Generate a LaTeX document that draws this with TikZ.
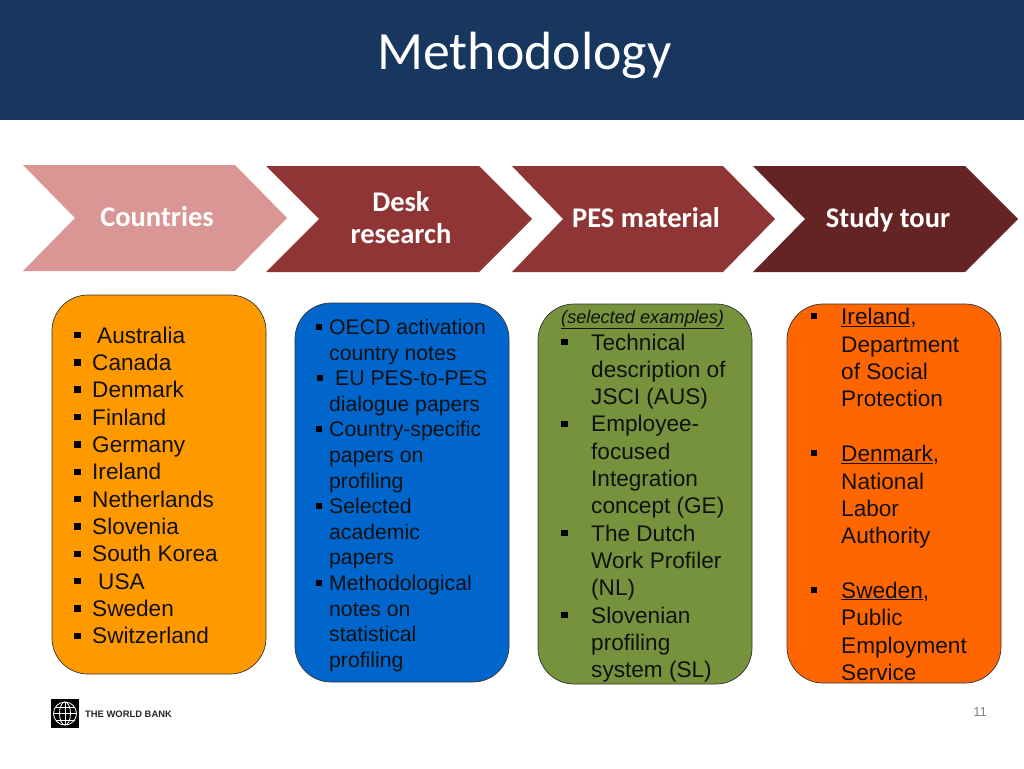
\documentclass[tikz,border=0pt]{standalone}
\usepackage{fontspec}
\setmainfont{Liberation Sans}
\newfontfamily\titlefont{Carlito}
\definecolor{hdr}{HTML}{17375E}
\definecolor{chevA}{HTML}{D99694}
\definecolor{chevB}{HTML}{8F3535}
\definecolor{chevC}{HTML}{632423}
\definecolor{boxY}{HTML}{FF9900}
\definecolor{boxB}{HTML}{0066CC}
\definecolor{boxG}{HTML}{76923C}
\definecolor{boxO}{HTML}{FF6600}
\definecolor{inktxt}{HTML}{111111}
\newcommand{\px}[1]{\fontsize{#1pt}{#1pt}\selectfont}
\tikzset{
  x=1pt,y=-1pt,
  chevlabel/.style={text=white,font=\titlefont\bfseries\px{28.5},anchor=base,inner sep=0pt},
  panel/.style={draw=black!80,line width=0.7pt,rounded corners=36pt},
  rowA/.style={anchor=base west,inner sep=0pt,text=inktxt,font=\px{22.6}},
  rowB/.style={anchor=base west,inner sep=0pt,text=inktxt,font=\px{21.2}},
  bul/.style={fill=black,inner sep=0pt,minimum size=6.5pt,rectangle}
}
\begin{document}
\begin{tikzpicture}
\useasboundingbox (0,0) rectangle (1024,768);
\fill[hdr] (0,0) rectangle (1024,120);
\node[text=white,font=\titlefont\px{53.8},anchor=base,inner sep=0pt] (title) at (524.5,69) {Methodology};

% chevrons
\fill[chevA] (23,165) -- (235,165) -- (287,218) -- (235,271) -- (23,271) -- (75,218) -- cycle;
\fill[chevB] (266,166) -- (479,166) -- (532,219) -- (479,272) -- (266,272) -- (319,219) -- cycle;
\fill[chevB] (512,166) -- (723,166) -- (775,219) -- (723,272) -- (512,272) -- (563,219) -- cycle;
\fill[chevC] (753,166) -- (965,166) -- (1018,219) -- (965,272) -- (753,272) -- (805,219) -- cycle;
\node[chevlabel] (l1) at (157,226.5) {Countries};
\node[chevlabel] (l2a) at (401,211.5) {Desk};
\node[chevlabel] (l2b) at (401,243) {research};
\node[chevlabel] (l3) at (646,227.5) {PES material};
\node[chevlabel] (l4) at (888,227.5) {Study tour};

% panels
\draw[panel,fill=boxY] (52,295) rectangle (266,674);
\draw[panel,fill=boxB] (295,303) rectangle (509,682);
\draw[panel,fill=boxG] (538,304) rectangle (752,684);
\draw[panel,fill=boxO] (787,304) rectangle (1001,683);

% countries
\foreach \i/\tx/\lab in {0/97/Australia,1/92/Canada,2/92/Denmark,3/92/Finland,4/92/Germany,5/92/Ireland,6/92/Netherlands,7/92/Slovenia,8/92/South Korea,9/98/USA,10/92/Sweden,11/92/Switzerland}{
  \node[bul] (cb\i) at (77.5,{335+27.36*\i}) {};
  \node[rowA] (c\i) at (\tx,{343+27.36*\i}) {\lab};
}

% desk research
\foreach \i/\tx/\lab in {0/329/OECD activation,1/329/country notes,2/335/EU PES-to-PES,3/329/dialogue papers,4/329/Country-specific,5/329/papers on,6/329/profiling,7/329/Selected,8/329/academic,9/329/papers,10/329/Methodological,11/329/notes on,12/329/statistical,13/329/profiling}{
  \node[rowB] (d\i) at (\tx,{334.5+25.6*\i}) {\lab};
}
\foreach \i/\bx/\by in {0/319/327,2/320/378,4/319/429,7/319/506,10/319/583}{
  \node[bul] (db\i) at (\bx,\by) {};
}

% PES material
\node[rowA,font=\itshape\px{18.2}] (p) at (561,323) {\underline{(selected examples)}};
\foreach \i/\lab in {0/Technical,1/description of,2/JSCI (AUS),3/Employee-,4/focused,5/Integration,6/concept (GE),7/The Dutch,8/Work Profiler,9/(NL),10/Slovenian,11/profiling,12/system (SL)}{
  \node[rowA] (m\i) at (591,{350+27.33*\i}) {\lab};
}
\foreach \i/\by in {0/342,3/424,7/533,10/615}{
  \node[bul] (mb\i) at (564.5,\by) {};
}

% study tour
\foreach \i/\by/\lab in {0/324.5/{\underline{Ireland},},1/352/Department,2/379/of Social,3/406.5/Protection,4/461.5/{\underline{Denmark},},5/489/National,6/516/Labor,7/543.5/Authority,8/598/{\underline{Sweden},},9/625.5/Public,10/653/Employment,11/680/Service}{
  \node[rowA] (s\i) at (841,\by) {\lab};
}
\foreach \i/\by in {0/316,4/453,8/590}{
  \node[bul] (sb\i) at (814,\by) {};
}

% logo
\fill[black] (51,699) rectangle (79,728);
\begin{scope}[draw=white,line width=0.8pt]
  \draw (65,713.5) circle[radius=11.5];
  \draw (65,713.5) ellipse[x radius=5.5,y radius=11.5];
  \draw (65,702) -- (65,725);
  \draw (53.5,713.5) -- (76.5,713.5);
  \draw (55.5,707) -- (74.5,707);
  \draw (55.5,720) -- (74.5,720);
\end{scope}
\node[anchor=base west,inner sep=0pt,font=\bfseries\px{9.4},text=black!85] (wb) at (85,717) {THE WORLD BANK};
\node[inner sep=0pt,font=\px{13},text=black!50] (pg) at (980,712) {11};
\end{tikzpicture}
\end{document}
